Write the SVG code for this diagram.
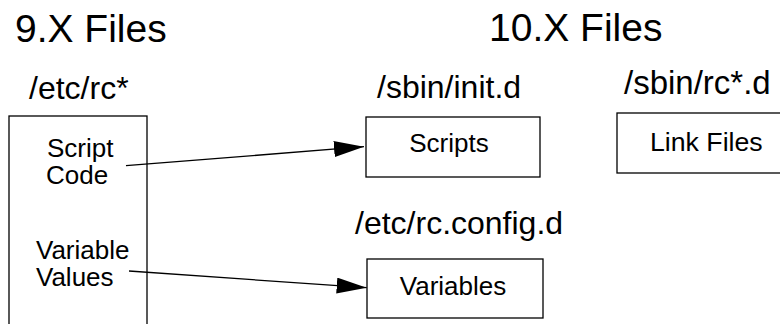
<svg xmlns="http://www.w3.org/2000/svg" width="780" height="324" viewBox="0 0 780 324">
<style>
text{font-family:"Liberation Sans",Arial,Helvetica,sans-serif;fill:#000}
.title{font-size:39px}
.dir{font-size:32px}
.lbl{font-size:26px}
.box{fill:#fff;stroke:#000;stroke-width:1.3}
.conn{stroke:#000;stroke-width:1.3;fill:none}
</style>
<defs>
<marker id="ah" viewBox="0 0 30 16" refX="30" refY="8" markerWidth="30" markerHeight="16" markerUnits="userSpaceOnUse" orient="auto">
<path d="M0,0 L30,8 L0,16 Z" fill="#000"/>
</marker>
</defs>
<rect width="780" height="324" fill="#fff"/>
<text class="title" x="15" y="42">9.X Files</text>
<text class="title" x="489" y="41">10.X Files</text>
<g id="rc">
<text class="dir" x="29" y="99">/etc/rc*</text>
<rect class="box" x="9" y="116" width="138" height="212"/>
<text class="lbl" x="47" y="157">Script</text>
<text class="lbl" x="46" y="184">Code</text>
<text class="lbl" x="36" y="259">Variable</text>
<text class="lbl" x="36" y="286">Values</text>
</g>
<g id="initd">
<text class="dir" x="377" y="98">/sbin/init.d</text>
<rect class="box" x="366" y="117" width="174" height="60"/>
<text class="lbl" x="449" y="152" text-anchor="middle">Scripts</text>
</g>
<g id="rcd">
<text class="dir" x="624" y="94" style="font-size:33px">/sbin/rc*.d</text>
<rect class="box" x="617" y="113" width="180" height="60"/>
<text class="lbl" x="650" y="151" style="font-size:26.7px">Link Files</text>
</g>
<g id="configd">
<text class="dir" x="355" y="234">/etc/rc.config.d</text>
<rect class="box" x="367" y="259" width="176" height="59"/>
<text class="lbl" x="453" y="295" text-anchor="middle">Variables</text>
</g>
<g id="connectors">
<line class="conn" x1="126" y1="165.7" x2="364" y2="146.7" marker-end="url(#ah)"/>
<line class="conn" x1="129" y1="271" x2="366.7" y2="287.7" marker-end="url(#ah)"/>
</g>
</svg>
